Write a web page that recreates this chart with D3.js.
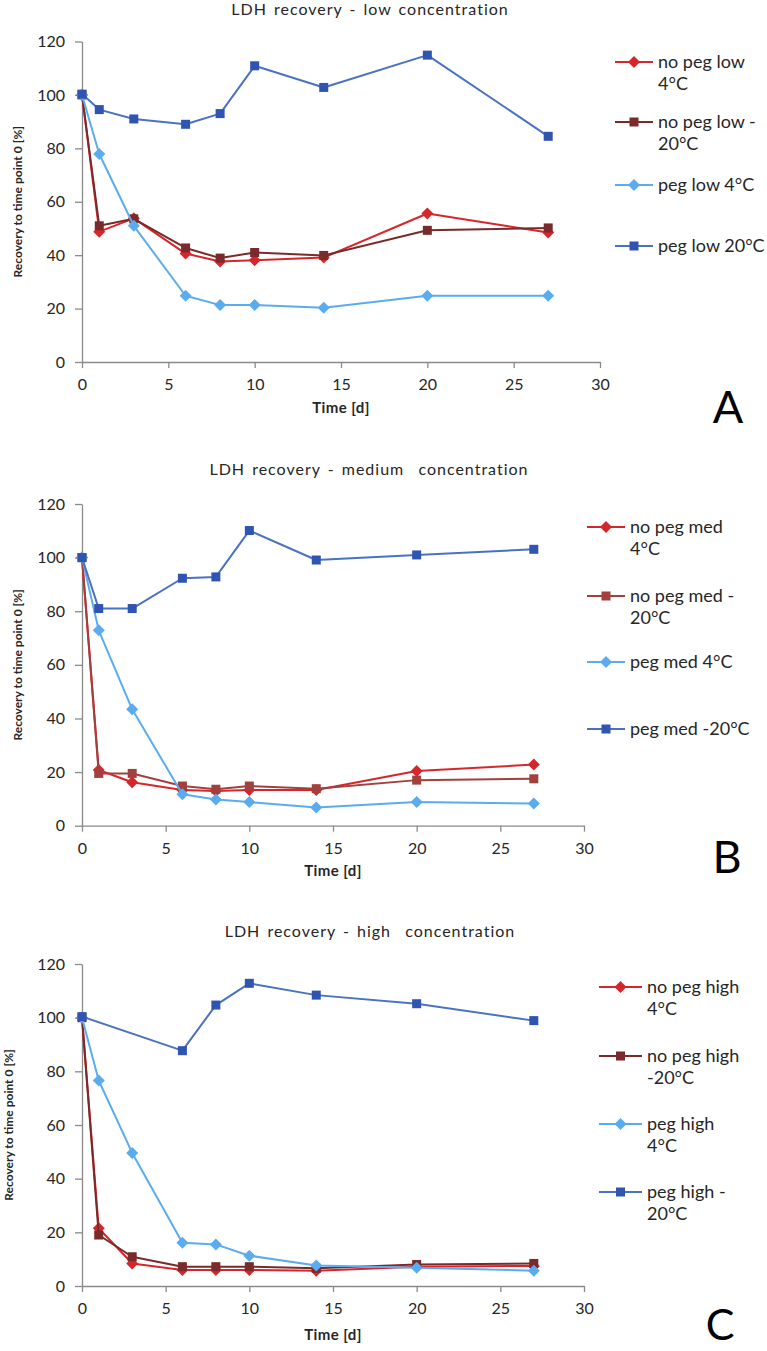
<!DOCTYPE html>
<html>
<head>
<meta charset="utf-8">
<script src="https://cdn.jsdelivr.net/npm/d3@7"></script>
<style>
  html, body { margin: 0; padding: 0; background: #fff; }
  svg { display: block; font-family: Lato, "Open Sans", sans-serif; }
</style>
</head>
<body>
<svg id="chart" width="767" height="1351"></svg>
<script>
// ---------- DATA ----------
const days = [0, 1, 3, 6, 8, 10, 14, 20, 27];
const daysHighPeg20 = [0, 6, 8, 10, 14, 20, 27];

const lowNoPeg4  = [100, 48.8, 53.8, 40.6, 37.6, 38.1, 39.1, 55.6, 48.5];
const lowNoPeg20 = [100, 51.0, 53.6, 42.7, 38.9, 41.0, 39.9, 49.3, 50.2];
const lowPeg4    = [100, 77.9, 51.0, 24.8, 21.3, 21.3, 20.3, 24.8, 24.8];
const lowPeg20   = [100.3, 94.5, 91.0, 89.0, 93.0, 110.9, 102.8, 114.9, 84.5];

const medNoPeg4  = [100, 20.8, 16.2, 13.3, 12.9, 13.3, 13.3, 20.4, 22.8];
const medNoPeg20 = [100, 19.5, 19.5, 14.8, 13.6, 14.8, 13.8, 17.0, 17.5];
const medPeg4    = [100, 72.9, 43.4, 11.7, 9.8, 8.8, 6.8, 8.8, 8.3];
const medPeg20   = [100, 81.0, 81.0, 92.3, 92.8, 110.1, 99.1, 101.0, 103.1];

const highNoPeg4  = [100, 21.5, 8.4, 6.0, 6.0, 6.0, 5.7, 7.2, 7.5];
const highNoPeg20 = [100, 19.0, 10.9, 7.2, 7.2, 7.2, 6.6, 8.0, 8.4];
const highPeg4    = [100, 76.6, 49.6, 16.1, 15.5, 11.3, 7.6, 6.8, 5.7];
const highPeg20   = [100.4, 87.7, 104.7, 112.8, 108.4, 105.2, 98.9];

const titles = ["LDH recovery - low concentration", "LDH recovery - medium  concentration", "LDH recovery - high  concentration"];
const panelLetters = ["A", "B", "C"];
const legendLow  = [["no peg low", "4°C"], ["no peg low -", "20°C"], ["peg low 4°C"], ["peg low 20°C"]];
const legendMed  = [["no peg med", "4°C"], ["no peg med -", "20°C"], ["peg med 4°C"], ["peg med -20°C"]];
const legendHigh = [["no peg high", "4°C"], ["no peg high", "-20°C"], ["peg high", "4°C"], ["peg high -", "20°C"]];
const xTicks = [0, 5, 10, 15, 20, 25, 30];
const yTicks = [0, 20, 40, 60, 80, 100, 120];
const xLabel = "Time [d]";
const yLabel = "Recovery to time point 0 [%]";

// ---------- STYLE ----------
const RED = "#d7262b", BROWN = "#7a2a2a", BROWN_B = "#a2403e", LBLUE = "#5aacee", DBLUE = "#4a72c2", DBLUE_M = "#2f54b2";

const panels = [
  { x0: 82, x1: 600, yTop: 41.5, yBot: 362, titleX: 370, titleY: 15, xlabY: 413, ylabX: 18,
    letterX: 728, letterY: 423, legX: 615, legW: 38, legYs: [62, 122, 185, 246], legend: legendLow,
    series: [
      { x: days, y: lowNoPeg4, c: RED, m: "diamond" },
      { x: days, y: lowNoPeg20, c: BROWN, m: "square" },
      { x: days, y: lowPeg4, c: LBLUE, m: "diamond" },
      { x: days, y: lowPeg20, c: DBLUE, mc: DBLUE_M, m: "square" }
    ] },
  { x0: 82, x1: 584, yTop: 504, yBot: 825.7, titleX: 369, titleY: 475, xlabY: 876, ylabX: 18,
    letterX: 727, letterY: 873, legX: 587, legW: 38, legYs: [527, 596, 662, 729], legend: legendMed,
    series: [
      { x: days, y: medNoPeg4, c: RED, m: "diamond" },
      { x: days, y: medNoPeg20, c: BROWN_B, m: "square" },
      { x: days, y: medPeg4, c: LBLUE, m: "diamond" },
      { x: days, y: medPeg20, c: DBLUE, mc: DBLUE_M, m: "square" }
    ] },
  { x0: 82, x1: 584, yTop: 964, yBot: 1286, titleX: 370, titleY: 937, xlabY: 1340, ylabX: 9,
    letterX: 720, letterY: 1340, letterSize: 43, legX: 599, legW: 43, legYs: [987, 1056, 1124, 1192], legend: legendHigh,
    series: [
      { x: days, y: highNoPeg4, c: RED, m: "diamond" },
      { x: days, y: highNoPeg20, c: BROWN, m: "square" },
      { x: days, y: highPeg4, c: LBLUE, m: "diamond" },
      { x: daysHighPeg20, y: highPeg20, c: DBLUE, mc: DBLUE_M, m: "square" }
    ] }
];

const svg = d3.select("#chart");
const AXIS = "#8a8a8a", TEXT = "#262626";

function marker(g, type, cx, cy, color) {
  if (type === "square") {
    g.append("rect").attr("x", cx - 4.5).attr("y", cy - 4.5).attr("width", 9).attr("height", 9).attr("fill", color);
  } else {
    g.append("path").attr("d", `M${cx},${cy - 6}L${cx + 6},${cy}L${cx},${cy + 6}L${cx - 6},${cy}Z`).attr("fill", color);
  }
}

panels.forEach((p, i) => {
  const x = d3.scaleLinear().domain([0, 30]).range([p.x0, p.x1]);
  const y = d3.scaleLinear().domain([0, 120]).range([p.yBot, p.yTop]);
  const g = svg.append("g");

  // axes
  const xa = g.append("g").attr("transform", `translate(0,${p.yBot})`)
    .call(d3.axisBottom(x).tickValues(xTicks).tickSize(6).tickPadding(11).tickSizeOuter(0));
  const ya = g.append("g").attr("transform", `translate(${p.x0},0)`)
    .call(d3.axisLeft(y).tickValues(yTicks).tickSize(7).tickPadding(10).tickSizeOuter(0));
  [xa, ya].forEach(a => {
    a.select(".domain").attr("stroke", AXIS).attr("stroke-width", 1.3);
    a.selectAll(".tick line").attr("stroke", AXIS).attr("stroke-width", 1.3);
    a.selectAll(".tick text").attr("fill", TEXT).style("font-size", "16px").style("font-family", "Lato, sans-serif");
  });

  // title
  g.append("text").attr("x", p.titleX).attr("y", p.titleY).attr("text-anchor", "middle")
    .attr("fill", TEXT).style("font-size", "16px").style("letter-spacing", "1px").style("word-spacing", "2px")
    .style("white-space", "pre").text(titles[i]);
  // x label
  g.append("text").attr("x", (p.x0 + p.x1) / 2).attr("y", p.xlabY).attr("text-anchor", "middle")
    .attr("fill", TEXT).style("font-size", "15px").style("font-weight", "bold").style("letter-spacing", "0.4px").text(xLabel);
  // y label
  g.append("text").attr("transform", `translate(${p.ylabX},${(p.yTop + p.yBot) / 2}) rotate(-90)`)
    .attr("text-anchor", "middle").attr("dy", "0.35em")
    .attr("fill", TEXT).style("font-size", "12px").style("font-weight", "bold").text(yLabel);

  // series
  const line = d3.line().x(d => x(d[0])).y(d => y(d[1]));
  p.series.forEach(s => {
    const pts = s.x.map((d, k) => [d, s.y[k]]);
    g.append("path").datum(pts).attr("d", line).attr("fill", "none")
      .attr("stroke", s.c).attr("stroke-width", 2).attr("stroke-linejoin", "round");
    const mg = g.append("g");
    pts.forEach(d => marker(mg, s.m, x(d[0]), y(d[1]), s.mc || s.c));
  });

  // legend
  p.series.forEach((s, k) => {
    const ly = p.legYs[k];
    const lg = g.append("g");
    lg.append("line").attr("x1", p.legX).attr("x2", p.legX + p.legW).attr("y1", ly).attr("y2", ly)
      .attr("stroke", s.c).attr("stroke-width", 2);
    marker(lg, s.m, p.legX + p.legW / 2, ly, s.mc || s.c);
    const t = lg.append("text").attr("x", p.legX + p.legW + 5).attr("y", ly)
      .attr("fill", TEXT).style("font-size", "18px");
    p.legend[k].forEach((ln, j) => {
      t.append("tspan").attr("x", p.legX + p.legW + 5).attr("dy", j === 0 ? "0.35em" : "22px").text(ln);
    });
  });

  // panel letter
  g.append("text").attr("x", p.letterX).attr("y", p.letterY).attr("text-anchor", "middle")
    .attr("fill", "#000").style("font-size", (p.letterSize || 45) + "px").text(panelLetters[i]);
});
</script>
</body>
</html>
